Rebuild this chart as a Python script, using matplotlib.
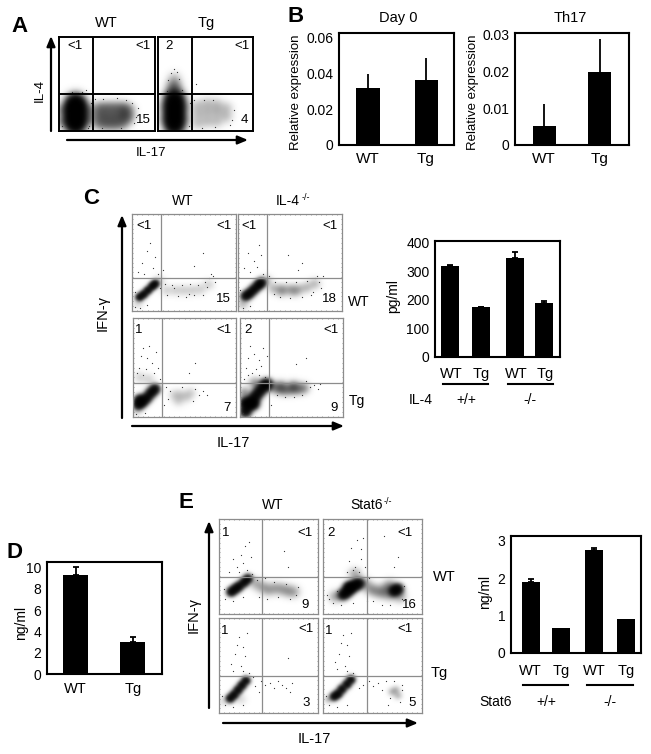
import matplotlib
matplotlib.use('Agg')
import matplotlib.pyplot as plt
import numpy as np

plt.rcParams['font.family'] = ['Liberation Sans', 'DejaVu Sans']

W, H = 651, 754

# Bar chart values
day0_vals = [0.032, 0.0365]
day0_tops = [0.040, 0.049]
th17_vals = [0.0053, 0.0199]
th17_tops = [0.0113, 0.029]
il4_vals = [319, 176, 347, 189]
il4_tops = [323, 177, 367, 196]
d_vals = [9.25, 3.0]
d_tops = [10.0, 3.5]
stat6_vals = [1.9, 0.67, 2.75, 0.91]
stat6_tops = [1.97, 0.67, 2.81, 0.91]
two_labels = ['WT', 'Tg']
four_labels = ['WT', 'Tg', 'WT', 'Tg']

# Flow plots: events, in percent of each plot
a_wt_core = [(17, 6), (17, 11), (17, 16), (17, 21), (17, 26), (17, 30)]
a_wt_haze = [(42, 8), (42, 16), (42, 24), (50, 7), (50, 15), (50, 24), (58, 7), (58, 15), (58, 24),
             (66, 8), (66, 16), (66, 24), (72, 14), (72, 22), (30, 12), (30, 22), (5, 10), (5, 22)]
a_wt_dots = [(24, 42), (20, 40), (28, 44), (14, 41), (31, 5), (33, 30), (80, 15), (82, 24), (78, 8),
             (76, 30), (38, 34), (46, 34), (60, 35), (70, 33), (3, 5), (30, 3), (45, 3), (65, 3)]
a_tg_core = [(17, 5), (17, 11), (17, 17), (17, 23), (17, 29), (17, 35)]
a_tg_haze = [(16, 43), (16, 50), (17, 56), (15, 47), (19, 47), (6, 12), (28, 12), (6, 25), (28, 25),
             (42, 8), (42, 18), (42, 27), (52, 10), (52, 20), (52, 29), (62, 10), (62, 20), (62, 28),
             (72, 15), (72, 24)]
a_tg_dots = [(14, 62), (20, 63), (11, 54), (22, 55), (17, 66), (25, 44), (9, 43), (33, 5), (34, 30),
             (38, 33), (48, 33), (58, 33), (78, 12), (80, 22), (76, 6), (46, 3), (60, 4), (40, 50)]

c_wt_wt_core = [(7, 14), (11, 17), (15, 21), (19, 25), (22, 28)]
c_wt_wt_haze = [(33, 21), (42, 21), (50, 21), (58, 21), (66, 22), (74, 27), (5, 8), (26, 31)]
c_wt_wt_dots = [(10, 50), (14, 62), (20, 44), (6, 40), (17, 70), (22, 56), (25, 38), (30, 42), (12, 38),
                (32, 28), (38, 27), (44, 15), (48, 27), (52, 14), (56, 28), (60, 16), (63, 27), (68, 17),
                (70, 30), (74, 34), (76, 38), (78, 36), (72, 25), (80, 30), (3, 4), (8, 3), (14, 6),
                (3, 20), (27, 24), (34, 16), (40, 24), (55, 18), (60, 46), (68, 60)]
c_wt_il4_core = [(7, 15), (11, 18), (15, 22), (19, 26), (22, 29)]
c_wt_il4_haze = [(34, 23), (42, 22), (50, 22), (58, 22), (66, 24), (74, 28), (4, 7), (27, 31), (42, 20), (54, 20)]
c_wt_il4_dots = [(10, 60), (15, 52), (20, 68), (6, 44), (18, 45), (22, 58), (24, 38), (12, 40), (30, 36),
                 (36, 30), (40, 14), (46, 30), (50, 13), (56, 30), (62, 14), (66, 31), (70, 16), (74, 34),
                 (76, 36), (78, 30), (80, 24), (72, 20), (5, 3), (12, 5), (2, 22), (58, 42), (62, 50),
                 (48, 58), (35, 18), (82, 36)]
c_tg_wt_core = [(5, 12), (9, 15), (13, 19), (17, 24), (21, 28), (6, 17)]
c_tg_wt_haze = [(40, 22), (46, 22), (52, 20), (44, 16), (56, 24), (6, 40), (15, 38), (3, 6)]
c_tg_wt_dots = [(10, 70), (14, 60), (18, 55), (6, 50), (22, 66), (8, 62), (13, 48), (20, 44), (4, 44),
                (24, 50), (16, 72), (10, 42), (26, 38), (32, 30), (36, 26), (60, 28), (64, 22), (68, 26),
                (72, 22), (34, 18), (48, 30), (58, 16), (3, 3), (12, 4), (30, 12), (60, 55), (54, 44)]
c_tg_il4_core = [(5, 5), (8, 11), (11, 16), (15, 21), (19, 26), (23, 31), (26, 33), (5, 14), (13, 13)]
c_tg_il4_haze = [(32, 30), (38, 28), (44, 27), (50, 28), (56, 28), (62, 29), (40, 31), (52, 31), (14, 34), (4, 24)]
c_tg_il4_dots = [(10, 72), (14, 64), (18, 58), (6, 50), (22, 70), (8, 60), (16, 48), (20, 52), (12, 44),
                 (24, 40), (18, 42), (26, 62), (4, 38), (8, 42), (68, 30), (72, 32), (76, 28), (64, 36),
                 (60, 22), (52, 20), (44, 20), (36, 22), (78, 33), (30, 12), (3, 4), (54, 54), (64, 60)]

e_wt_wt_core = [(12, 23), (16, 26), (20, 29), (25, 33), (29, 37)]
e_wt_wt_haze = [(50, 25), (57, 27), (64, 26), (70, 24), (44, 28), (37, 32), (76, 23)]
e_wt_wt_dots = [(22, 62), (26, 72), (18, 50), (14, 58), (30, 76), (24, 54), (32, 60), (10, 44), (28, 46),
                (20, 44), (33, 42), (6, 16), (5, 26), (14, 14), (24, 18), (40, 18), (48, 16), (56, 34),
                (60, 18), (68, 32), (72, 16), (78, 20), (80, 28), (38, 36), (46, 38), (66, 66), (70, 50)]
e_st_wt_core = [(20, 20), (24, 23), (28, 27), (32, 30), (36, 32), (72, 24), (76, 26), (26, 28)]
e_st_wt_haze = [(12, 18), (42, 32), (48, 26), (54, 24), (60, 22), (64, 26), (68, 20), (78, 18), (32, 42), (68, 30)]
e_st_wt_dots = [(28, 70), (34, 78), (38, 68), (26, 56), (32, 50), (38, 58), (30, 46), (36, 44), (24, 44),
                (40, 80), (42, 50), (6, 16), (4, 20), (10, 12), (14, 24), (18, 10), (30, 12), (44, 14),
                (50, 14), (60, 10), (68, 10), (80, 16), (82, 30), (62, 82), (76, 60), (72, 50), (46, 38)]
e_tg_wt_core = [(11, 15), (15, 19), (19, 24), (23, 29), (27, 34)]
e_tg_wt_haze = [(4, 12), (22, 14)]
e_tg_wt_dots = [(20, 80), (24, 70), (16, 62), (12, 52), (26, 60), (22, 50), (18, 72), (28, 84), (14, 44),
                (24, 44), (30, 42), (34, 38), (3, 18), (6, 8), (14, 6), (24, 8), (42, 34), (46, 30), (52, 32),
                (56, 26), (60, 34), (64, 30), (68, 26), (72, 22), (74, 32), (40, 22), (36, 28), (70, 58)]
e_st_tg_core = [(11, 17), (15, 20), (19, 25), (24, 30), (28, 35)]
e_st_tg_haze = [(5, 14), (74, 24), (76, 18), (70, 22)]
e_st_tg_dots = [(20, 82), (24, 72), (16, 62), (12, 54), (26, 60), (22, 50), (18, 74), (28, 84), (14, 46),
                (24, 44), (30, 42), (3, 18), (6, 8), (14, 6), (24, 8), (40, 30), (46, 34), (50, 28), (56, 32),
                (60, 24), (64, 34), (68, 16), (80, 24), (78, 12), (80, 30), (72, 34), (36, 26), (66, 8)]

grid = np.linspace(0, 100, 101)
gx, gy = np.meshgrid(grid, grid)


def box(x0, y0, x1, y1):
    return [x0 / W, 1 - y1 / H, (x1 - x0) / W, (y1 - y0) / H]


def unzip(points):
    return [p[0] for p in points], [p[1] for p in points]


def blur(points, sigma, weight):
    total = np.zeros_like(gx)
    for x, y in points:
        total += weight * np.exp(-((gx - x) ** 2 + (gy - y) ** 2) / (2 * sigma ** 2))
    return total


def flow(rect, vgate, hgate, core, haze, dots, core_sig, haze_sig, haze_w, frame, lw, labels, ticks=True):
    ax = fig.add_axes(box(*rect))
    # density of the clouds, darkest where the events pile up
    dens = 1 - np.exp(-(blur(core, core_sig, 2.5) + blur(haze, haze_sig, haze_w)))
    ax.imshow(dens, origin='lower', extent=(0, 100, 0, 100), aspect='auto', cmap='gray_r',
              vmin=0, vmax=1, interpolation='bilinear')
    ax.scatter(*unzip(dots), s=0.8, color='#333333', linewidths=0)
    ax.axvline(vgate, color=frame, lw=lw)
    ax.axhline(hgate, color=frame, lw=lw)
    for s in ax.spines.values():
        s.set_linewidth(lw)
        s.set_color(frame)
    if ticks:
        ax.set_xticks(range(5, 100, 5))
        ax.set_yticks(range(5, 100, 5))
        ax.tick_params(length=1, width=0.4, direction='in', color='#555555',
                       labelbottom=False, labelleft=False, top=True, right=True)
    else:
        ax.set_xticks([])
        ax.set_yticks([])
    for x, y, s in labels:
        ax.text(x, y, s, fontsize=9.5, ha='center', va='center')
    return ax


def bars(rect, xs, vals, tops, width, xlim, ylim, yticks, yticklabels, cap=0.0):
    ax = fig.add_axes(box(*rect))
    ax.bar(xs, vals, width=width, color='black')
    for x, v, t in zip(xs, vals, tops):
        if t > v:
            ax.errorbar(x, v, yerr=[[0], [t - v]], color='black', elinewidth=1.3, capsize=cap, capthick=1.3)
    ax.set_xlim(*xlim)
    ax.set_ylim(*ylim)
    ax.set_xticks([])
    ax.set_yticks(yticks)
    ax.set_yticklabels(yticklabels, fontsize=10)
    ax.tick_params(axis='y', length=0, pad=4)
    for s in ax.spines.values():
        s.set_linewidth(1.5)
    return ax


fig = plt.figure(figsize=(W / 100, H / 100), dpi=100)

# Panel A
flow((59, 37, 155, 131), 35, 39, a_wt_core, a_wt_haze, a_wt_dots, 6, 5, 0.5, 'black', 1.4,
     [(17, 90, '<1'), (87, 90, '<1'), (88, 12, '15')], ticks=False)
flow((158, 37, 253, 131), 36, 39, a_tg_core, a_tg_haze, a_tg_dots, 6, 5, 0.2, 'black', 1.4,
     [(12, 90, '2'), (88, 90, '<1'), (91, 12, '4')], ticks=False)

# Panel B
bars((339, 33, 454, 145), [0, 1], day0_vals, day0_tops, 0.4, (-0.5, 1.48), (0, 0.0628),
     [0, 0.02, 0.04, 0.06], ['0', '0.02', '0.04', '0.06'])
bars((515, 33, 629, 145), [0, 1], th17_vals, th17_tops, 0.41, (-0.52, 1.52), (0, 0.0305),
     [0, 0.01, 0.02, 0.03], ['0', '0.01', '0.02', '0.03'])

# Panel C
gray = '#8c8c8c'
flow((132, 214, 236, 311), 28, 34, c_wt_wt_core, c_wt_wt_haze, c_wt_wt_dots, 2.5, 4, 0.15, gray, 0.9,
     [(12, 88, '<1'), (88, 88, '<1'), (88, 12, '15')])
flow((238, 214, 342, 311), 28, 34, c_wt_il4_core, c_wt_il4_haze, c_wt_il4_dots, 3, 4, 0.25, gray, 0.9,
     [(11, 88, '<1'), (88, 88, '<1'), (88, 12, '18')])
flow((133, 318, 236, 417), 28, 34, c_tg_wt_core, c_tg_wt_haze, c_tg_wt_dots, 3.2, 4, 0.15, gray, 0.9,
     [(6, 88, '1'), (88, 88, '<1'), (91, 9, '7')])
flow((240, 318, 343, 417), 28, 34, c_tg_il4_core, c_tg_il4_haze, c_tg_il4_dots, 3.5, 4, 0.45, gray, 0.9,
     [(8, 88, '2'), (88, 88, '<1'), (91, 9, '9')])
bars((435, 241, 560, 357), [450, 481, 515, 544], il4_vals, il4_tops, 17.5, (435, 560), (0, 407),
     [0, 100, 200, 300, 400], ['0', '100', '200', '300', '400'], cap=2.5)

# Panel D
bars((47, 562, 162, 674), [76, 133], d_vals, d_tops, 25, (47, 162), (0, 10.5),
     [0, 2, 4, 6, 8, 10], ['0', '2', '4', '6', '8', '10'], cap=2)

# Panel E
flow((219, 519, 318, 614), 43, 39, e_wt_wt_core, e_wt_wt_haze, e_wt_wt_dots, 3, 4.5, 0.3, gray, 0.9,
     [(7, 85, '1'), (87, 85, '<1'), (87, 10, '9')])
flow((323, 519, 422, 614), 44, 39, e_st_wt_core, e_st_wt_haze, e_st_wt_dots, 3.5, 4.5, 0.35, gray, 0.9,
     [(8, 85, '2'), (83, 85, '<1'), (87, 10, '16')])
flow((219, 618, 318, 713), 43, 39, e_tg_wt_core, e_tg_wt_haze, e_tg_wt_dots, 2.8, 4, 0.12, gray, 0.9,
     [(6, 86, '1'), (88, 88, '<1'), (88, 10, '3')])
flow((323, 618, 422, 713), 44, 39, e_st_tg_core, e_st_tg_haze, e_st_tg_dots, 2.8, 3, 0.25, gray, 0.9,
     [(6, 86, '1'), (83, 88, '<1'), (90, 10, '5')])
bars((511, 536, 641, 653), [531, 561, 594, 626], stat6_vals, stat6_tops, 18, (511, 641), (0, 3.12),
     [0, 1, 2, 3], ['0', '1', '2', '3'], cap=2.5)

# Labels, arrows and group lines on an overlay in pixel coordinates
over = fig.add_axes([0, 0, 1, 1], facecolor='none')
over.set_xlim(0, W)
over.set_ylim(H, 0)
over.axis('off')
over.set_zorder(10)


def label(x, y, s, size=10, rot=0, weight='normal'):
    over.text(x, y, s, fontsize=size, rotation=rot, fontweight=weight, ha='center', va='center')


def arrow(x0, y0, x1, y1):
    over.annotate('', xy=(x1, y1), xytext=(x0, y0),
                  arrowprops=dict(arrowstyle='-|>,head_width=0.25,head_length=0.6', color='black',
                                  lw=1.6, shrinkA=0, shrinkB=0))


for x, y, s in [(20, 26, 'A'), (296, 16, 'B'), (91, 198, 'C'), (15, 553, 'D'), (186, 503, 'E')]:
    label(x, y, s, size=16, weight='bold')

# A
label(106, 23, 'WT', 10.5)
label(206, 23, 'Tg', 10.5)
label(40, 90, 'IL-4', 9.5, 90)
label(151, 153, 'IL-17', 9.5)
arrow(51, 131, 51, 36)
arrow(67, 140, 248, 140)

# B
label(398, 18, 'Day 0', 10.5)
label(570, 18, 'Th17', 10.5)
label(296, 92, 'Relative expression', 9.5, 90)
label(473, 92, 'Relative expression', 9.5, 90)
for x, s in zip([368, 426], two_labels):
    label(x, 159, s, 11)
for x, s in zip([544, 600], two_labels):
    label(x, 159, s, 11)

# C
label(183, 201, 'WT', 10)
label(288, 201, 'IL-4', 10)
label(306, 197, '-/-', 6.5)
label(359, 302, 'WT', 10)
label(357, 401, 'Tg', 10)
label(103, 313, 'IFN-γ', 10.5, 90)
label(233, 443, 'IL-17', 10.5)
arrow(122, 418, 122, 215)
arrow(132, 426, 344, 426)
label(393, 296, 'pg/ml', 10, 90)
for x, s in zip([451, 481, 516, 545], four_labels):
    label(x, 374, s, 10.5)
over.plot([443, 488], [384, 384], color='black', lw=1.5)
over.plot([508, 553], [384, 384], color='black', lw=1.5)
label(421, 400, 'IL-4', 10)
label(466, 400, '+/+', 10)
label(530, 400, '-/-', 10)

# D
label(21, 623, 'ng/ml', 10, 90)
for x, s in zip([75, 133], two_labels):
    label(x, 689, s, 10.5)

# E
label(273, 505, 'WT', 10)
label(367, 505, 'Stat6', 10)
label(388, 501, '-/-', 6.5)
label(444, 577, 'WT', 10.5)
label(439, 673, 'Tg', 10.5)
label(194, 615, 'IFN-γ', 10.5, 90)
label(314, 739, 'IL-17', 10.5)
arrow(209, 708, 209, 521)
arrow(223, 723, 418, 723)
label(485, 592, 'ng/ml', 10, 90)
for x, s in zip([530, 561, 594, 626], four_labels):
    label(x, 671, s, 10.5)
over.plot([523, 568], [685, 685], color='black', lw=1.5)
over.plot([587, 633], [685, 685], color='black', lw=1.5)
label(496, 702, 'Stat6', 10)
label(546, 702, '+/+', 10)
label(610, 702, '-/-', 10)

fig.savefig('out.png', dpi=100)
